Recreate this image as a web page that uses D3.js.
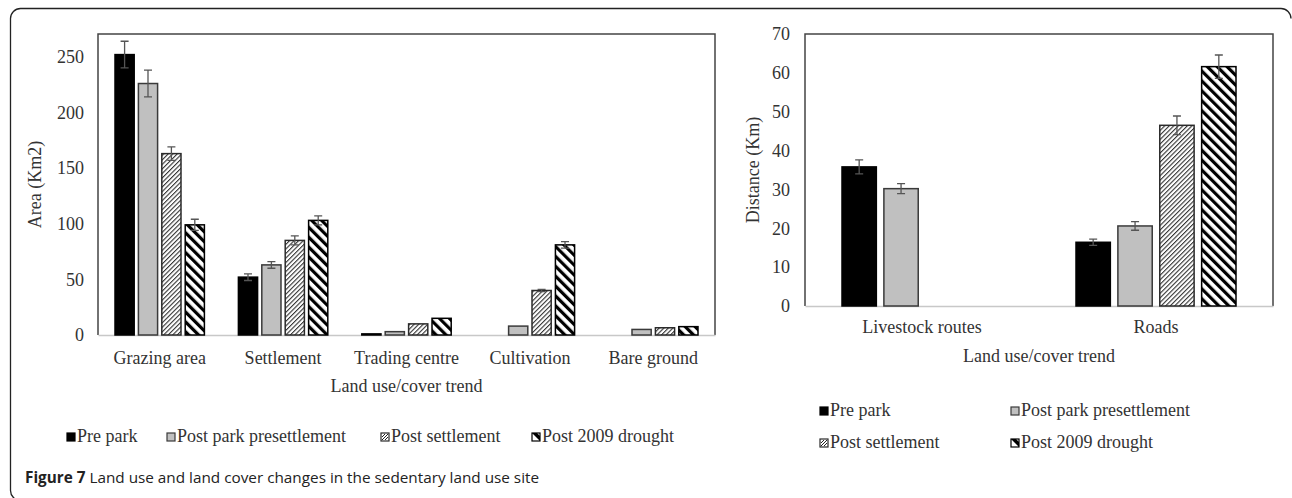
<!DOCTYPE html>
<html>
<head>
<meta charset="utf-8">
<script src="https://cdn.jsdelivr.net/npm/d3@7"></script>
<style>
  body { margin: 0; background: #fff; }
  text { font-family: "Liberation Serif", "Times New Roman", serif; fill: #333; }
</style>
</head>
<body>
<svg id="fig" width="1292" height="498"></svg>
<script>
// series shared by both panels
const seriesNames = ['Pre park', 'Post park presettlement', 'Post settlement', 'Post 2009 drought'];

// left panel: area (Km2)
const areaCategories = ['Grazing area', 'Settlement', 'Trading centre', 'Cultivation', 'Bare ground'];
const areaPrePark = [252, 52, 1, 0, 0];
const areaPostPark = [226, 63, 3, 8, 5];
const areaPostSettlement = [163, 85, 10, 40, 6.5];
const areaPostDrought = [99, 103, 15, 81, 7.5];
const areaPreParkErr = [12, 3, 0, 0, 0];
const areaPostParkErr = [12, 3, 0, 0, 0];
const areaPostSettlementErr = [6, 4, 0, 1, 0];
const areaPostDroughtErr = [5, 4, 0, 3, 0];
const areaTicks = [0, 50, 100, 150, 200, 250];

// right panel: distance (Km)
const distCategories = ['Livestock routes', 'Roads'];
const distPrePark = [35.8, 16.4];
const distPostPark = [30.2, 20.6];
const distPostSettlement = [0, 46.5];
const distPostDrought = [0, 61.6];
const distPreParkErr = [1.8, 0.8];
const distPostParkErr = [1.3, 1.1];
const distPostSettlementErr = [0, 2.4];
const distPostDroughtErr = [0, 3];
const distTicks = [0, 10, 20, 30, 40, 50, 60, 70];

const svg = d3.select('#fig');

// patterns
const defs = svg.append('defs');
const thin = defs.append('pattern')
  .attr('id', 'hatchThin')
  .attr('patternUnits', 'userSpaceOnUse')
  .attr('width', 3.2).attr('height', 3.2)
  .attr('patternTransform', 'rotate(45)');
thin.append('rect').attr('width', 3.2).attr('height', 3.2).attr('fill', '#fff');
thin.append('rect').attr('width', 1.1).attr('height', 3.2).attr('fill', '#333');

const wide = defs.append('pattern')
  .attr('id', 'hatchWide')
  .attr('patternUnits', 'userSpaceOnUse')
  .attr('width', 7).attr('height', 7)
  .attr('patternTransform', 'rotate(-45)');
wide.append('rect').attr('width', 7).attr('height', 7).attr('fill', '#fff');
wide.append('rect').attr('width', 3.2).attr('height', 7).attr('fill', '#000');

const fills = ['#000', '#c0c0c0', 'url(#hatchThin)', 'url(#hatchWide)'];
const strokes = ['#000', '#3a3a3a', '#2a2a2a', '#000'];

// outer frame: left side, top, and the top-right corner only
svg.append('path')
  .attr('d', 'M20.5,500.5 A10,10 0 0 1 10.5,490.5 V18.5 A10,10 0 0 1 20.5,8.5 H1281 A10,10 0 0 1 1291,18.5')
  .attr('fill', 'none')
  .attr('stroke', '#222')
  .attr('stroke-width', 1.3);

function drawPanel(opts) {
  const { cats, values, errs, ticks, yMax, left, right, top, bottom,
          outer, yTitle, yTitleX, tickX, catY, titleY } = opts;
  const g = svg.append('g');

  const x = d3.scaleBand().domain(cats).range([left, right]);
  const xs = d3.scaleBand().domain(seriesNames)
    .range([outer, x.bandwidth() - outer])
    .paddingInner(0.18);
  const y = d3.scaleLinear().domain([0, yMax]).range([bottom, top]);

  // plot box (left, top, right)
  g.append('path')
    .attr('d', `M${left},${bottom}V${top}H${right}V${bottom}`)
    .attr('fill', 'none')
    .attr('stroke', '#444')
    .attr('stroke-width', 1.5);

  // y axis labels
  const yAxis = g.append('g')
    .attr('transform', `translate(${tickX},0)`)
    .call(d3.axisLeft(y).tickValues(ticks).tickSize(0).tickPadding(0));
  yAxis.select('.domain').remove();
  yAxis.selectAll('text')
    .style('font-size', '18px')
    .attr('fill', '#333')
    .attr('font-family', '"Liberation Serif", serif');

  // x axis
  const xAxis = g.append('g')
    .attr('transform', `translate(0,${bottom})`)
    .call(d3.axisBottom(x).tickSize(0).tickPadding(0));
  xAxis.select('.domain').attr('stroke', '#c8c8c8').attr('stroke-width', 1.5);
  xAxis.selectAll('text')
    .attr('y', catY - bottom)
    .attr('dy', 0)
    .style('font-size', '18px')
    .attr('fill', '#333')
    .attr('font-family', '"Liberation Serif", serif');

  // bars
  seriesNames.forEach((s, si) => {
    const grp = g.append('g');
    cats.forEach((c, ci) => {
      const v = values[si][ci];
      if (!v) return;
      const bx = x(c) + xs(s);
      grp.append('rect')
        .attr('x', bx)
        .attr('y', y(v))
        .attr('width', xs.bandwidth())
        .attr('height', y(0) - y(v))
        .attr('fill', fills[si])
        .attr('stroke', strokes[si])
        .attr('stroke-width', 1.5);
      const e = errs[si][ci];
      if (e) {
        const cx = bx + xs.bandwidth() / 2;
        grp.append('path')
          .attr('d', `M${cx},${y(v + e)}V${y(v - e)}M${cx - 4},${y(v + e)}H${cx + 4}M${cx - 4},${y(v - e)}H${cx + 4}`)
          .attr('fill', 'none')
          .attr('stroke', '#555')
          .attr('stroke-width', 1.3);
      }
    });
  });

  // titles
  g.append('text')
    .attr('transform', `translate(${yTitleX},${(top + bottom) / 2}) rotate(-90)`)
    .attr('text-anchor', 'middle')
    .style('font-size', '18px')
    .text(yTitle);
  g.append('text')
    .attr('x', (left + right) / 2)
    .attr('y', titleY)
    .attr('text-anchor', 'middle')
    .style('font-size', '18px')
    .text('Land use/cover trend');
}

drawPanel({
  cats: areaCategories,
  values: [areaPrePark, areaPostPark, areaPostSettlement, areaPostDrought],
  errs: [areaPreParkErr, areaPostParkErr, areaPostSettlementErr, areaPostDroughtErr],
  ticks: areaTicks, yMax: 270.5,
  left: 98, right: 715, top: 34, bottom: 335,
  outer: 17, yTitle: 'Area (Km2)', yTitleX: 41, tickX: 84,
  catY: 364, titleY: 392
});

drawPanel({
  cats: distCategories,
  values: [distPrePark, distPostPark, distPostSettlement, distPostDrought],
  errs: [distPreParkErr, distPostParkErr, distPostSettlementErr, distPostDroughtErr],
  ticks: distTicks, yMax: 70,
  left: 805, right: 1273, top: 34, bottom: 306,
  outer: 37, yTitle: 'Distance (Km)', yTitleX: 759, tickX: 790,
  catY: 333, titleY: 362
});

// legends
function legendItem(x0, yBase, si) {
  const g = svg.append('g');
  g.append('rect')
    .attr('x', x0).attr('y', yBase - 9)
    .attr('width', 8).attr('height', 8)
    .attr('fill', si >= 2 ? '#fff' : fills[si])
    .attr('stroke', strokes[si])
    .attr('stroke-width', 1.2);
  if (si === 2) {
    g.append('path')
      .attr('d', `M${x0 + 1},${yBase - 2}L${x0 + 7},${yBase - 8}M${x0 + 1},${yBase - 5}L${x0 + 4},${yBase - 8}M${x0 + 4},${yBase - 2}L${x0 + 7},${yBase - 5}`)
      .attr('stroke', '#222').attr('stroke-width', 1);
  }
  if (si === 3) {
    g.append('path')
      .attr('d', `M${x0},${yBase - 9}H${x0 + 5}L${x0 + 8},${yBase - 6}V${yBase - 1}Z`)
      .attr('fill', '#000');
  }
  g.append('text')
    .attr('x', x0 + 10)
    .attr('y', yBase)
    .style('font-size', '18px')
    .text(seriesNames[si]);
}

const leftLegendX = [67, 167, 381, 532];
seriesNames.forEach((s, i) => legendItem(leftLegendX[i], 442, i));

const rightLegendX = [820, 1011, 820, 1011];
const rightLegendY = [416, 416, 448, 448];
seriesNames.forEach((s, i) => legendItem(rightLegendX[i], rightLegendY[i], i));

// caption
const cap = svg.append('text')
  .attr('x', 25)
  .attr('y', 483)
  .style('font-family', '"Open Sans", "Noto Sans", sans-serif')
  .style('font-size', '15.3px')
  .style('fill', '#222');
cap.append('tspan').style('font-weight', 'bold').text('Figure 7');
cap.append('tspan').text(' Land use and land cover changes in the sedentary land use site');
</script>
</body>
</html>
